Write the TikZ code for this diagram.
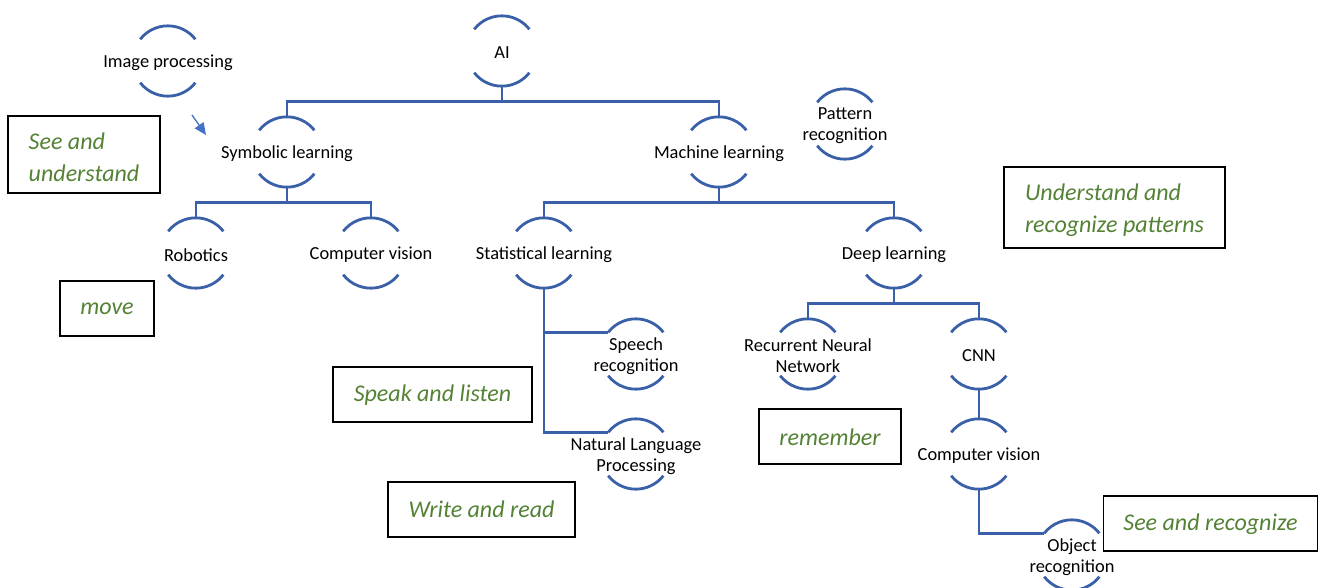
\documentclass[tikz,border=0pt]{standalone}
\usepackage{fontspec}
\setmainfont{Carlito}
\usetikzlibrary{calc,arrows.meta}

\definecolor{linkblue}{RGB}{58,96,168}
\definecolor{arrowblue}{RGB}{68,114,196}
\definecolor{notegreen}{RGB}{84,130,53}

\tikzset{
  x=0.75pt, y=0.75pt,
  hub/.style={circle, minimum size=52.5pt, inner sep=0pt},
  lbl/.style={font=\fontsize{13.8}{15.8}\selectfont, align=center, inner sep=0pt,
    text=black, yshift=-1.5pt},
  link/.style={draw=linkblue, line width=2.1pt},
  notebox/.style 2 args={draw=black, line width=1.2pt, rectangle,
    minimum width=#1*0.75pt, minimum height=#2*0.75pt, inner sep=0pt},
  notetext/.style={inner sep=0pt, align=left, text=notegreen,
    font=\fontsize{18}{24}\selectfont\itshape},
}

% a concept: invisible circle with a label, open arcs above and below
\newcommand\hubnode[4]{%
  \node[hub] (#1) at (#2,-#3) {};
  \node[lbl] (#1-text) at (#1.center) {#4};
  \draw[link] (#1.142) arc[start angle=142, end angle=38, radius=35];
  \draw[link] (#1.218) arc[start angle=218, end angle=322, radius=35];
}

% a framed capability note; #7 nudges the text vertically
\newcommand\notenode[7]{%
  \node[notebox={#4}{#5}] (#1) at (#2,-#3) {};
  \node[notetext, yshift=#7] (#1-text) at (#1.center) {#6};
}

\begin{document}
\begin{tikzpicture}
\useasboundingbox (0,0) rectangle (1319,-588);

% concepts
\hubnode{imgproc}{168}{61}{Image processing}
\hubnode{ai}{502}{51}{AI}
\hubnode{sym}{287}{152}{Symbolic learning}
\hubnode{ml}{719}{152}{Machine learning}
\hubnode{patrec}{845}{124}{Pattern\\recognition}
\hubnode{robot}{196}{253}{Robotics}
\hubnode{cvleft}{371}{253}{Computer vision}
\hubnode{stat}{544}{253}{Statistical learning}
\hubnode{deep}{894}{253}{Deep learning}
\hubnode{speech}{636}{354}{Speech\\recognition}
\hubnode{rnn}{808}{354}{Recurrent Neural\\Network}
\hubnode{cnn}{979}{354}{CNN}
\hubnode{nlp}{636}{454}{Natural Language\\Processing}
\hubnode{cvright}{979}{454}{Computer vision}
\hubnode{objrec}{1072}{555}{Object\\recognition}

% hierarchy connectors
\coordinate (ai-j) at ($(ai.south)+(0,-15)$);
\draw[link] (ai.south) -- (ai-j);
\draw[link] (sym.north) |- (ai-j) -| (ml.north);

\coordinate (sym-j) at ($(sym.south)+(0,-15)$);
\draw[link] (sym.south) -- (sym-j);
\draw[link] (robot.north) |- (sym-j) -| (cvleft.north);

\coordinate (ml-j) at ($(ml.south)+(0,-15)$);
\draw[link] (ml.south) -- (ml-j);
\draw[link] (stat.north) |- (ml-j) -| (deep.north);

\draw[link] (stat.south) |- (speech.142);
\draw[link] (stat.south) |- (nlp.142);

\coordinate (deep-j) at ($(deep.south)+(0,-15)$);
\draw[link] (deep.south) -- (deep-j);
\draw[link] (rnn.north) |- (deep-j) -| (cnn.north);

\draw[link] (cnn.south) -- (cvright.north);
\draw[link] (cvright.south) |- (objrec.142);

% small loose arrow
\coordinate (arr-s) at (192,-115);
\coordinate (arr-e) at (206,-135);
\draw[draw=arrowblue, line width=1pt, -{Triangle[length=9pt, width=8pt]}] (arr-s) -- (arr-e);

% capability notes
\notenode{n-seeund}{84}{154.5}{152}{77}{See and\\understand}{-2pt}
\notenode{n-move}{107}{308.5}{94}{55}{move}{-0.5pt}
\notenode{n-speak}{432.5}{394.5}{199}{55}{Speak and listen}{-0.5pt}
\notenode{n-write}{481.5}{509.5}{187}{55}{Write and read}{0.5pt}
\notenode{n-remember}{830}{436.5}{142}{55}{remember}{-0.5pt}
\notenode{n-pattern}{1114.5}{207.5}{221}{81}{Understand and\\recognize patterns}{-2pt}
\notenode{n-seerec}{1210.5}{523.5}{214}{55}{See and recognize}{-0.5pt}
\end{tikzpicture}
\end{document}
